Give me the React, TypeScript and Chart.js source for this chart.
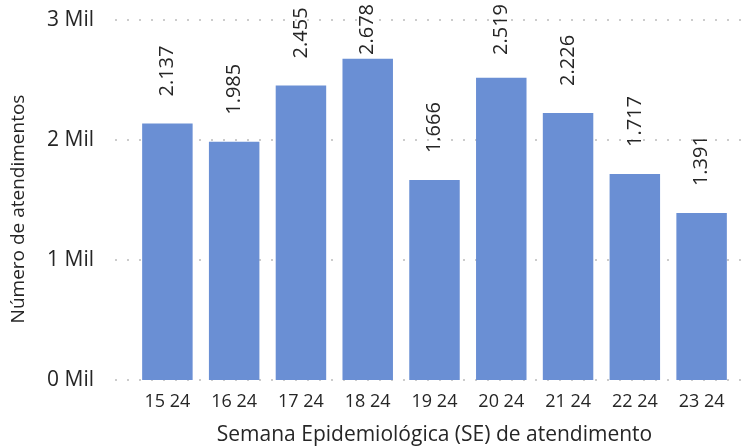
import React, { useEffect, useRef } from "react";
import { Chart, registerables } from "chart.js";

Chart.register(...registerables);

const categories = ["15 24", "16 24", "17 24", "18 24", "19 24", "20 24", "21 24", "22 24", "23 24"];
const atendimentos = [2137, 1985, 2455, 2678, 1666, 2519, 2226, 1717, 1391];
const yTicks = [0, 1000, 2000, 3000];
const yTitle = "Número de atendimentos";
const xTitle = "Semana Epidemiológica (SE) de atendimento";

const FONT = "'Open Sans', sans-serif";
const TEXT = "#262626";
const BAR = "#6a8fd4";

const fmt = (v: number) => v.toLocaleString("pt-BR");

const gridPlugin = {
  id: "dottedGrid",
  beforeDatasetsDraw(chart: any) {
    const { ctx, chartArea, scales } = chart;
    ctx.save();
    ctx.strokeStyle = "#cccccc";
    ctx.lineWidth = 2;
    ctx.setLineDash([2, 10]);
    for (const t of yTicks) {
      const y = Math.round(scales.y.getPixelForValue(t));
      ctx.beginPath();
      ctx.moveTo(chartArea.left - 19, y);
      ctx.lineTo(chartArea.right + 7, y);
      ctx.stroke();
    }
    ctx.restore();
  },
};

const labelPlugin = {
  id: "barLabels",
  afterDatasetsDraw(chart: any) {
    const { ctx, chartArea } = chart;
    const meta = chart.getDatasetMeta(0);
    ctx.save();
    ctx.fillStyle = TEXT;
    ctx.font = `20px ${FONT}`;
    ctx.textAlign = "left";
    ctx.textBaseline = "middle";
    meta.data.forEach((el: any, i: number) => {
      const txt = fmt(atendimentos[i]);
      const w = ctx.measureText(txt).width;
      const anchor = Math.max(el.y - 27, w + 4);
      ctx.save();
      ctx.translate(el.x, anchor);
      ctx.rotate(-Math.PI / 2);
      ctx.fillText(txt, 0, 0);
      ctx.restore();
    });
    // y axis title
    ctx.font = `19px ${FONT}`;
    ctx.textAlign = "center";
    ctx.translate(19, (chartArea.top + chartArea.bottom) / 2 + 9);
    ctx.rotate(-Math.PI / 2);
    ctx.fillText(yTitle, 0, 0);
    ctx.restore();
  },
};

export default function App() {
  const ref = useRef<HTMLCanvasElement>(null);
  useEffect(() => {
    document.body.style.margin = "0";
    const chart = new Chart(ref.current!, {
      type: "bar",
      data: {
        labels: categories,
        datasets: [
          {
            data: atendimentos,
            backgroundColor: BAR,
            categoryPercentage: 1,
            barPercentage: 0.756,
          },
        ],
      },
      options: {
        animation: false,
        responsive: false,
        layout: { padding: { top: 20, right: 15, left: 0, bottom: 0 } },
        plugins: { legend: { display: false }, tooltip: { enabled: false } },
        scales: {
          x: {
            grid: { display: false, drawTicks: false, tickLength: 0 },
            border: { display: false },
            ticks: { color: TEXT, font: { family: FONT, size: 18 }, padding: 11, maxRotation: 0 },
            title: {
              display: true,
              text: xTitle,
              color: TEXT,
              font: { family: FONT, size: 21, lineHeight: 1.1 },
              padding: { top: 0, bottom: 0 },
            },
            afterFit: (s: any) => {
              s.height = 67;
              s.paddingLeft = 0;
              s.paddingRight = 0;
            },
          },
          y: {
            min: 0,
            max: 3000,
            grid: { display: false, drawTicks: false, tickLength: 0 },
            border: { display: false },
            ticks: {
              stepSize: 1000,
              color: TEXT,
              font: { family: FONT, size: 21 },
              padding: 40,
              callback: (v: any) => `${Number(v) / 1000} Mil`,
            },
            title: { display: false },
            afterFit: (s: any) => {
              s.width = 134;
              s.paddingTop = 0;
              s.paddingBottom = 0;
            },
          },
        },
      },
      plugins: [gridPlugin, labelPlugin],
    });
    return () => chart.destroy();
  }, []);
  return (
    <div style={{ width: 750, height: 447 }}>
      <canvas ref={ref} width={750} height={447} style={{ display: "block" }} />
    </div>
  );
}
